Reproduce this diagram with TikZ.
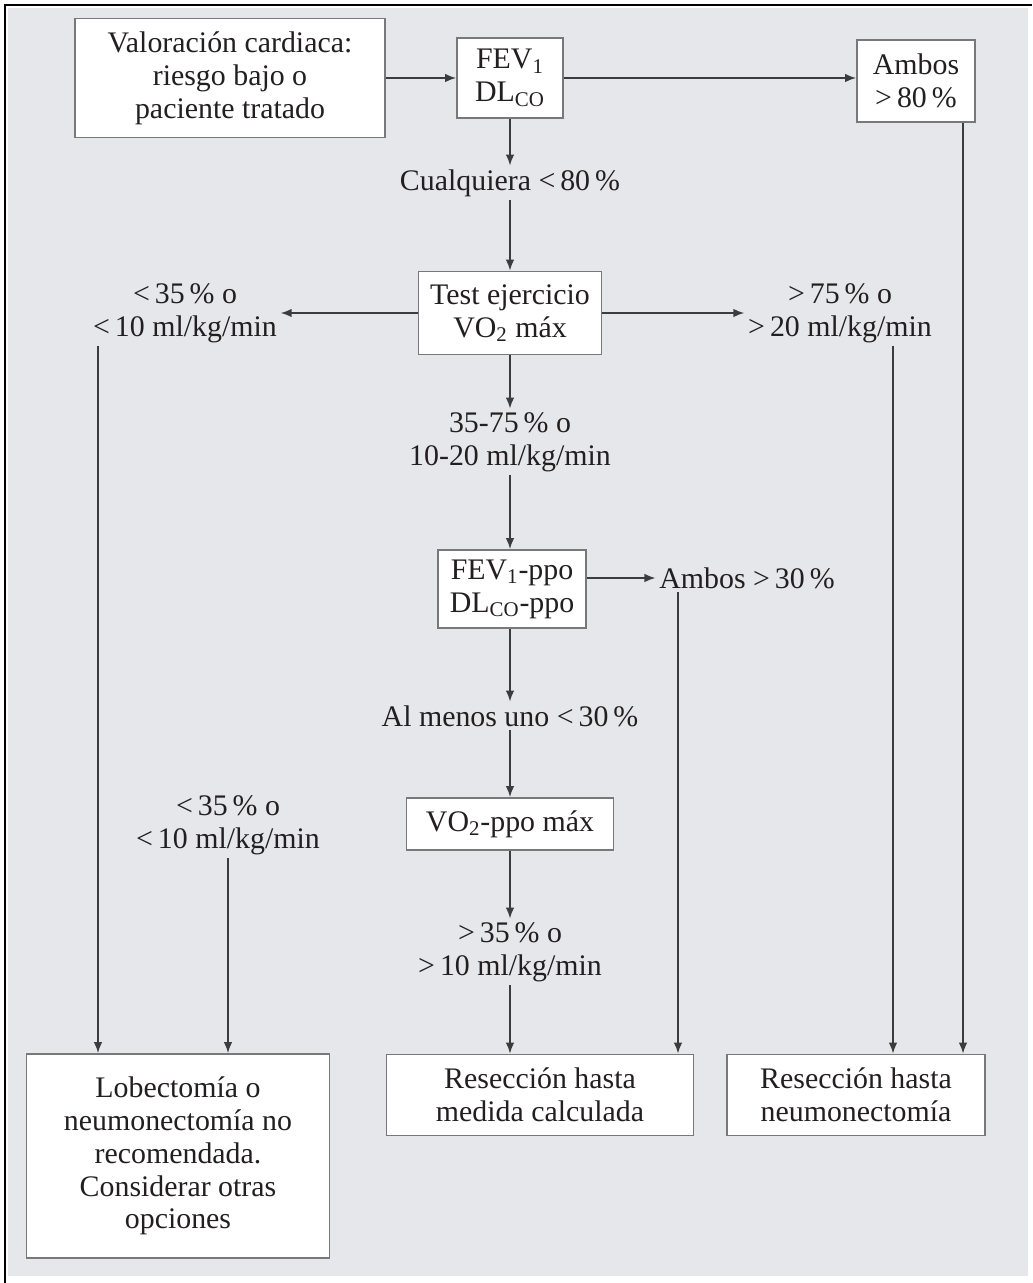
\documentclass[tikz,border=0pt]{standalone}
\usepackage{fontspec}
\setmainfont{Liberation Serif}
\usetikzlibrary{arrows.meta}
\definecolor{fondo}{RGB}{230,231,234}
\definecolor{borde}{RGB}{120,120,122}
\definecolor{linea}{RGB}{60,60,62}
\definecolor{texto}{RGB}{35,31,32}

\begin{document}
\begin{tikzpicture}[x=0.02cm,y=-0.02cm,
    >={Latex[length=2.2mm,width=1.7mm]},
    font=\fontsize{17}{18.7}\selectfont, text=texto,
    caja/.style={draw=borde, line width=1pt, fill=white, align=center, inner sep=1pt},
    etiq/.style={align=center, inner sep=2pt},
    flecha/.style={->, draw=linea, line width=0.9pt}]
    % Frame and background
    \useasboundingbox (0,0) rectangle (1032,1283);
    \fill[fondo] (8,8) rectangle (1028,1276);
    \draw[line width=1.6pt] (5,1283) -- (5,5) -- (1032,5);
    % Boxes
    \node[caja, minimum width=6.2cm, minimum height=2.38cm] (val) at (230,78)
        {Valoración cardiaca:\\riesgo bajo o\\paciente tratado};
    \node[caja, minimum width=2.12cm, minimum height=1.6cm] (fev) at (510,78)
        {FEV\textsubscript{1}\\DL\textsubscript{CO}};
    \node[caja, minimum width=2.36cm, minimum height=1.64cm] (ambos) at (916,81)
        {Ambos\\>\,80\,\%};
    \node[caja, minimum width=3.66cm, minimum height=1.66cm] (test) at (510,313)
        {Test ejercicio\\VO\textsubscript{2} máx};
    \node[caja, minimum width=2.96cm, minimum height=1.56cm] (ppo) at (512,589)
        {FEV\textsubscript{1}-ppo\\DL\textsubscript{CO}-ppo};
    \node[caja, minimum width=4.14cm, minimum height=1.04cm] (vodos) at (510,824)
        {VO\textsubscript{2}-ppo máx};
    \node[caja, minimum width=6.06cm, minimum height=4.08cm] (nores) at (178,1156)
        {Lobectomía o\\neumonectomía no\\recomendada.\\Considerar otras\\opciones};
    \node[caja, minimum width=6.14cm, minimum height=1.62cm] (reshasta) at (540,1095)
        {Resección hasta\\medida calculada};
    \node[caja, minimum width=5.16cm, minimum height=1.62cm] (resneumo) at (856,1095)
        {Resección hasta\\neumonectomía};
    % Labels
    \node[etiq] (cual) at (510,183) {Cualquiera <\,80\,\%};
    \node[etiq] (menor) at (185,313) {<\,35\,\% o\\<\,10 ml/kg/min};
    \node[etiq] (mayor) at (840,313) {>\,75\,\% o\\>\,20 ml/kg/min};
    \node[etiq] (medio) at (510,442) {35-75\,\% o\\10-20 ml/kg/min};
    \node[etiq] (ambosppo) at (747,578) {Ambos >\,30\,\%};
    \node[etiq] (almenos) at (510,716) {Al menos uno <\,30\,\%};
    \node[etiq] (menorb) at (228,825) {<\,35\,\% o\\<\,10 ml/kg/min};
    \node[etiq] (mayorb) at (510,952) {>\,35\,\% o\\>\,10 ml/kg/min};
    % Columns of the long lines
    \coordinate (xc) at (510,0);
    \coordinate (xl) at (98,0);
    \coordinate (xr) at (893,0);
    \coordinate (xa) at (963,0);
    \coordinate (xm) at (678,0);
    % Connectors
    \draw[flecha] (val) -- (fev);
    \draw[flecha] (fev.east) -- (fev.east -| ambos.west);
    \draw[flecha] (fev) -- (cual);
    \draw[flecha] (cual) -- (test);
    \draw[flecha] (test) -- (menor);
    \draw[flecha] (test) -- (mayor);
    \draw[flecha] (test) -- (medio);
    \draw[flecha] (medio.south) -- (ppo.north -| xc);
    \draw[flecha] (ambosppo.west -| ppo.east) -- (ambosppo.west);
    \draw[flecha] (ppo.south -| xc) -- (almenos.north);
    \draw[flecha] (almenos) -- (vodos);
    \draw[flecha] (vodos) -- (mayorb);
    \draw[flecha] (mayorb.south) -- (mayorb.south |- reshasta.north);
    \draw[flecha] (ambosppo.south -| xm) -- (reshasta.north -| xm);
    \draw[flecha] (menor.south -| xl) -- (nores.north -| xl);
    \draw[flecha] (menorb.south) -- (menorb.south |- nores.north);
    \draw[flecha] (mayor.south -| xr) -- (resneumo.north -| xr);
    \draw[flecha] (ambos.south -| xa) -- (resneumo.north -| xa);
\end{tikzpicture}
\end{document}
